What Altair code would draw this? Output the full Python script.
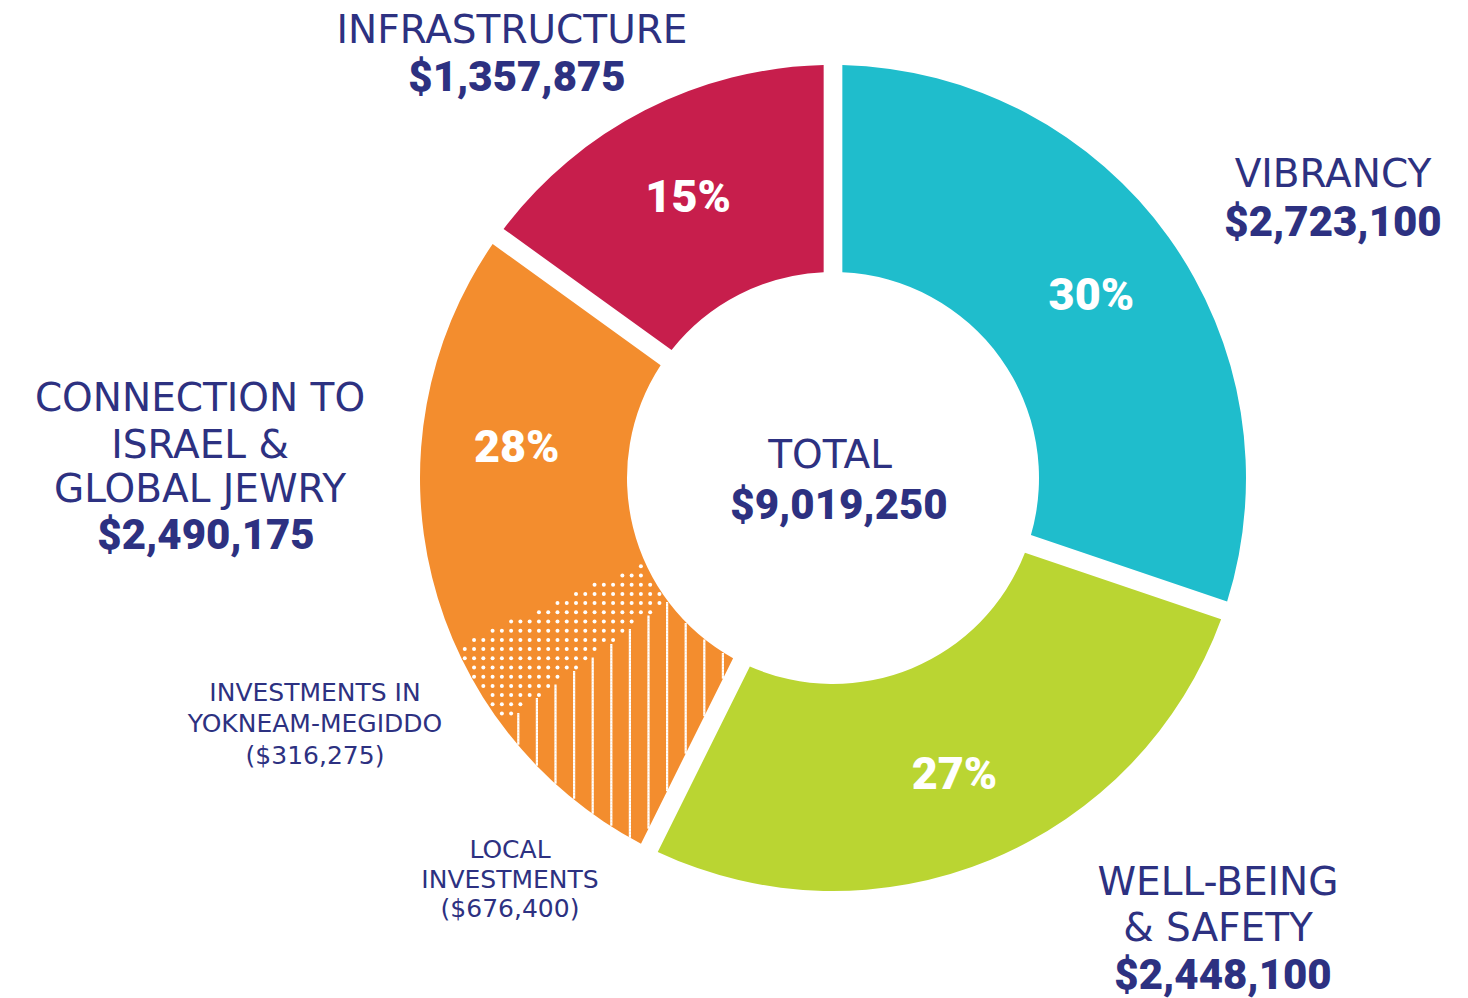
import math
import altair as alt
import pandas as pd

# ---------------- data ----------------
categories = ["VIBRANCY", "WELL-BEING\n& SAFETY", "CONNECTION TO\nISRAEL &\nGLOBAL JEWRY", "INFRASTRUCTURE"]
amounts = [2723100, 2448100, 2490175, 1357875]

sub_categories = ["LOCAL\nINVESTMENTS", "INVESTMENTS IN\nYOKNEAM-MEGIDDO"]
sub_amounts = [676400, 316275]          # parts of CONNECTION TO ISRAEL & GLOBAL JEWRY

total_label = "TOTAL"
total_amount = sum(amounts)

# ---------------- style / layout ----------------
colors = ["#1FBDCC", "#BAD532", "#F38D2E", "#C71E4C"]
NAVY = "#2D3181"
W, H = 1452, 990
CX, CY = 825, 470            # donut centre (plot coordinates)
R_IN, R_OUT = 206, 413
PAD = 0.0405
GAP_HALF = 9.35
NAME_FONT = "DejaVu Sans"
NUM_FONT = "Roboto Black, Roboto"

# label block anchors (page coordinates): (x of name lines, y of name lines, x, y of value)
main_layout = [
    (1333, [172.5], 1333, 220),                 # vibrancy
    (1218, [881, 927], 1223, 973),              # well-being
    (200, [397, 443.5, 488], 206, 533),         # connection
    (512, [29], 517, 75),                       # infrastructure
]
sub_layout = [
    (510, [848, 878], 510, 907),                # local
    (315, [690.5, 722], 315, 754),              # yokneam
]
total_layout = (830, 454, 839, 503)


def money(v):
    return f"${v:,}"


def pct(v):
    return f"{round(100 * v / total_amount)}%"


# ---------------- main donut ----------------
main_df = pd.DataFrame({"category": categories, "amount": amounts, "k": range(len(amounts))})

arcs = alt.Chart(main_df).mark_arc(
    innerRadius=R_IN, outerRadius=R_OUT, padAngle=PAD, stroke=None
).encode(
    theta=alt.Theta("amount:Q", stack=True),
    order=alt.Order("k:Q"),
    color=alt.Color("category:N", scale=alt.Scale(domain=categories, range=colors), legend=None),
    x=alt.value(CX),
    y=alt.value(CY),
)

# pieces (connection split into local / yokneam / rest) for label angles + textures
conn_rest = amounts[2] - sum(sub_amounts)
piece_amounts = [amounts[0], amounts[1], sub_amounts[0], sub_amounts[1], conn_rest, amounts[3]]
piece_text = [pct(amounts[0]), pct(amounts[1]), "", "", pct(amounts[2]), pct(amounts[3])]
pieces_df = pd.DataFrame({"amount": piece_amounts, "pct": piece_text, "k": range(6)})

pct_text = alt.Chart(pieces_df).mark_text(
    radius=318, font=NUM_FONT, fontWeight=900, fontSize=45, color="white",
    align="center", baseline="middle", dy=3,
).encode(
    theta=alt.Theta("amount:Q", stack=True),
    order=alt.Order("k:Q"),
    text="pct:N",
    x=alt.value(CX),
    y=alt.value(CY),
)

cum = [0]
for a in piece_amounts:
    cum.append(cum[-1] + a)
ang = [2 * math.pi * c / total_amount for c in cum]
a_local0, a_local1 = ang[2], ang[3]
a_yok0, a_yok1 = ang[3], ang[4]

polar = dict(
    r="sqrt(datum.dx*datum.dx + datum.dy*datum.dy)",
    a="(atan2(datum.dx, -datum.dy) + 2*PI) % (2*PI)",
    px=f"{CX} + datum.dx",
    py=f"{CY} + datum.dy",
)

# stripes (local investments)
S_X0, S_STEP, NSX = -333.3, 18.6, 14
S_Y0, S_DY, NSY = 118.0, 1.5, 172
stripes = alt.Chart(alt.sequence(0, NSX * NSY, as_="i")).transform_calculate(
    dx=f"{S_X0} + {S_STEP}*floor(datum.i / {NSY})",
    dy=f"{S_Y0} + {S_DY}*(datum.i % {NSY})",
).transform_calculate(**polar).transform_calculate(
    side=f"datum.r * sin(datum.a - {a_local0})",
    py2=f"datum.py + {S_DY + 0.2}",
).transform_filter(
    f"datum.r > {R_IN + 0.5} && datum.r < {R_OUT - 1} && datum.a > {a_local0} && datum.a < {a_local1} && datum.side > {GAP_HALF + 0.6}"
).mark_rule(color="white", strokeWidth=2.2, strokeCap="butt").encode(
    x=alt.X("px:Q", scale=None, axis=None),
    y=alt.Y("py:Q", scale=None, axis=None),
    y2="py2:Q",
)

# dots (yokneam-megiddo)
D_X0, D_STEP_X, NX = -377.5, 9.27, 26
D_Y0, D_STEP_Y, NY = 79.1, 9.2, 20
dots = alt.Chart(alt.sequence(0, NX * NY, as_="i")).transform_calculate(
    dx=f"{D_X0} + {D_STEP_X}*floor(datum.i / {NY})",
    dy=f"{D_Y0} + {D_STEP_Y}*(datum.i % {NY})",
).transform_calculate(**polar).transform_filter(
    f"datum.r > {R_IN + 2.5} && datum.r < {R_OUT - 2.5} && datum.a > {a_yok0} && datum.a < {a_yok1}"
).mark_circle(size=16, color="white", opacity=1).encode(
    x=alt.X("px:Q", scale=None, axis=None),
    y=alt.Y("py:Q", scale=None, axis=None),
)

# ---------------- labels ----------------
name_rows, value_rows, small_rows = [], [], []
for cat, amt, (nx, nys, vx, vy) in zip(categories, amounts, main_layout):
    for line, ly in zip(cat.split("\n"), nys):
        name_rows.append({"t": line, "x": nx - 8, "y": ly - 8})
    value_rows.append({"t": money(amt), "x": vx - 8, "y": vy - 8})
for cat, amt, (nx, nys, vx, vy) in zip(sub_categories, sub_amounts, sub_layout):
    for line, ly in zip(cat.split("\n"), nys):
        small_rows.append({"t": line, "x": nx - 8, "y": ly - 8})
    small_rows.append({"t": f"({money(amt)})", "x": vx - 8, "y": vy - 8})
tx, ty, vx, vy = total_layout
name_rows.append({"t": total_label, "x": tx - 8, "y": ty - 8})
value_rows.append({"t": money(total_amount), "x": vx - 8, "y": vy - 8})


def text_layer(rows, size, weight, font):
    return alt.Chart(pd.DataFrame(rows)).mark_text(
        font=font, fontSize=size, fontWeight=weight, color=NAVY,
        align="center", baseline="middle", dy=round(size * 0.06),
    ).encode(
        x=alt.X("x:Q", scale=None, axis=None),
        y=alt.Y("y:Q", scale=None, axis=None),
        text="t:N",
    )


names = text_layer(name_rows, 39, "normal", NAME_FONT)
values = text_layer(value_rows, 42, 900, NUM_FONT)
smalls = text_layer(small_rows, 25, "normal", NAME_FONT)

chart = alt.layer(arcs, stripes, dots, pct_text, names, values, smalls).properties(
    width=W, height=H, padding=0, autosize=alt.AutoSizeParams(type="none"),
    background="white",
).configure_view(stroke=None)

chart.save("out.html", embed_options={"renderer": "svg", "actions": False})
